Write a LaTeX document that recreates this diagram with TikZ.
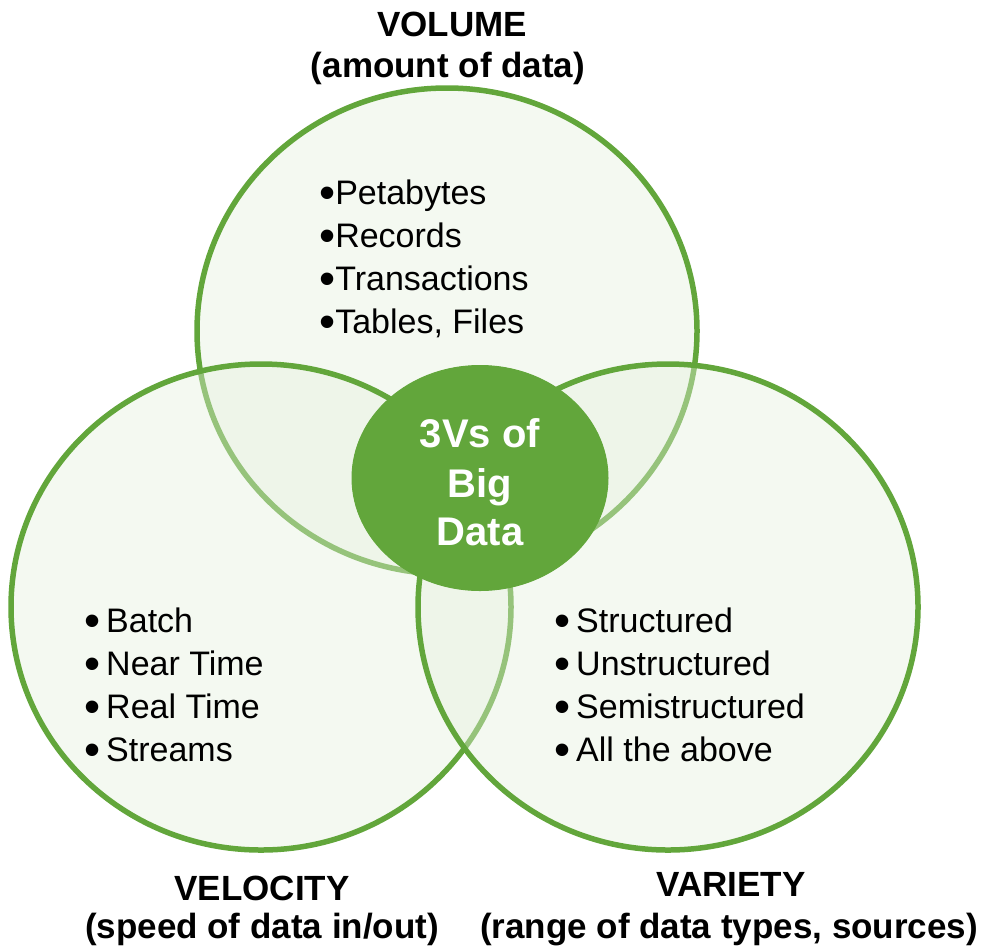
\documentclass[tikz,border=0pt]{standalone}
\usepackage{fontspec}
\setmainfont{Liberation Sans}
\usetikzlibrary{shapes.geometric}
\definecolor{vgreen}{RGB}{98,166,59}
\definecolor{vfill}{RGB}{228,240,220}
% a slightly larger bullet, kept on the text baseline
\newcommand{\vdot}{\raisebox{-4pt}{\scalebox{1.35}{•}}}
\tikzset{
  vcircle/.style={ellipse, draw=vgreen, line width=5.5pt, fill=vfill,
    fill opacity=0.4, minimum width=500pt, minimum height=486pt, inner sep=0pt},
  core/.style={ellipse, draw=vgreen, fill=vgreen, line width=1pt,
    minimum width=256pt, minimum height=225pt, inner sep=0pt},
  item/.style={anchor=base west, inner sep=0pt, font=\fontsize{34}{40}\selectfont},
  title/.style={anchor=base, inner sep=0pt, font=\fontsize{35}{42}\selectfont\bfseries},
  coretext/.style={anchor=base, inner sep=0pt, text=white,
    font=\fontsize{40}{48}\selectfont\bfseries}
}
\begin{document}
\begin{tikzpicture}[x=1pt,y=-1pt]
\useasboundingbox (0,0) rectangle (981,948);

% the three overlapping circles
\node[vcircle] (volume)   at (447,331) {};
\node[vcircle] (velocity) at (261,607) {};
\node[vcircle] (variety)  at (668,607) {};

% central badge
\node[core] (hub) at (480,478) {};
\node[coretext] (hubA) at (480,447) {3Vs of};
\node[coretext] (hubB) at (480,497) {Big};
\node[coretext] (hubC) at (480,545) {Data};

% headings
\node[title] (volT)  at (452,36)  {VOLUME};
\node[title] (volS)  at (448,77)  {(amount of data)};
\node[title] (velT)  at (262,900) {VELOCITY};
\node[title] (velS)  at (262,938) {(speed of data in/out)};
\node[title] (varT)  at (731,896) {VARIETY};
\node[title] (varS)  at (729,938) {(range of data types, sources)};

% volume items
\node[item] (v1) at (319,204) {\vdot Petabytes};
\node[item] (v2) at (319,247) {\vdot Records};
\node[item] (v3) at (319,290) {\vdot Transactions};
\node[item] (v4) at (319,333) {\vdot Tables, Files};

% velocity items
\node[item] (b1) at (84,632)  {\vdot};
\node[item] (t1) at (106,632) {Batch};
\node[item] (b2) at (84,675)  {\vdot};
\node[item] (t2) at (106,675) {Near Time};
\node[item] (b3) at (84,718)  {\vdot};
\node[item] (t3) at (106,718) {Real Time};
\node[item] (b4) at (84,761)  {\vdot};
\node[item] (t4) at (106,761) {Streams};

% variety items
\node[item] (c1) at (554,632)  {\vdot};
\node[item] (s1) at (576,632)  {Structured};
\node[item] (c2) at (554,675)  {\vdot};
\node[item] (s2) at (576,675)  {Unstructured};
\node[item] (c3) at (554,718)  {\vdot};
\node[item] (s3) at (576,718)  {Semistructured};
\node[item] (c4) at (554,761)  {\vdot};
\node[item] (s4) at (576,761)  {All the above};
\end{tikzpicture}
\end{document}
